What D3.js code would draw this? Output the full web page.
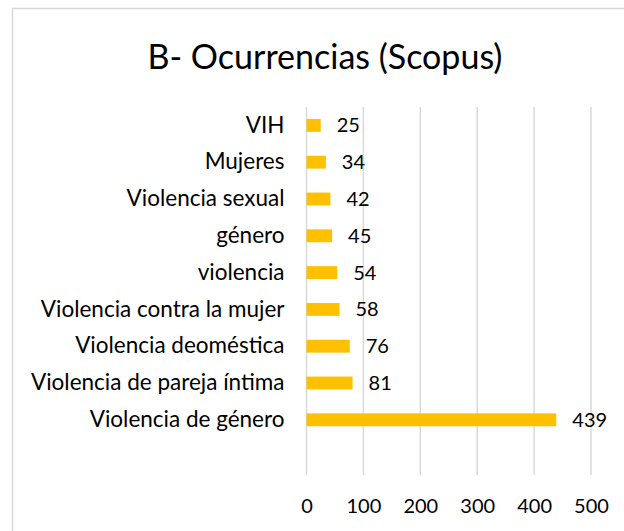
<!DOCTYPE html>
<html>
<head>
  <meta charset="utf-8">
  <title>B- Ocurrencias (Scopus)</title>
  <script src="https://d3js.org/d3.v7.min.js"></script>
  <style>
    body { margin: 0; background: #fff; }
    svg text { font-family: Lato, "Open Sans", sans-serif; fill: #000; }
  </style>
</head>
<body>
  <div id="chart"></div>
  <script>
    // data, top to bottom as in the chart
    var categories = ['VIH', 'Mujeres', 'Violencia sexual', 'género', 'violencia',
      'Violencia contra la mujer', 'Violencia deoméstica', 'Violencia de pareja íntima', 'Violencia de género'];
    var counts = [25, 34, 42, 45, 54, 58, 76, 81, 439];
    var xTicks = [0, 100, 200, 300, 400, 500];

    var width = 624, height = 531;
    var svg = d3.select('#chart').append('svg')
      .attr('width', width)
      .attr('height', height);

    // chart frame (runs off the right and bottom edges)
    svg.append('rect')
      .attr('x', 12.5).attr('y', 8.5)
      .attr('width', 640).attr('height', 560)
      .attr('fill', 'none')
      .attr('stroke', '#d9d9d9')
      .attr('stroke-width', 1.5);

    svg.append('text')
      .attr('x', 325).attr('y', 69)
      .attr('text-anchor', 'middle')
      .style('font-size', '34px')
      .text('B- Ocurrencias (Scopus)');

    var plotTop = 107, plotBottom = 475;
    var x = d3.scaleLinear().domain([0, 500]).range([306.5, 591]);
    // excel leaves one empty slot below the last bar
    var step = (plotBottom - plotTop) / (categories.length + 1);
    var y = d3.scaleBand().domain(categories)
      .range([plotTop, plotTop + step * categories.length])
      .paddingInner(0.65).paddingOuter(0.325);

    // gridlines
    svg.append('g').selectAll('line').data(xTicks).enter().append('line')
      .attr('x1', function(d) { return x(d); })
      .attr('x2', function(d) { return x(d); })
      .attr('y1', plotTop).attr('y2', plotBottom)
      .attr('stroke', '#d9d9d9')
      .attr('stroke-width', 1.5);

    // x axis labels
    var xAxis = svg.append('g')
      .attr('transform', 'translate(0,' + plotBottom + ')')
      .call(d3.axisBottom(x).tickValues(xTicks).tickSize(0).tickPadding(24));
    xAxis.select('.domain').remove();
    xAxis.selectAll('text').style('font-size', '20px').attr('fill', '#000');

    // category labels
    var yAxis = svg.append('g')
      .attr('transform', 'translate(' + x(0) + ',0)')
      .call(d3.axisLeft(y).tickSize(0).tickPadding(22));
    yAxis.select('.domain').remove();
    yAxis.selectAll('text').style('font-size', '22.5px').attr('fill', '#000');

    svg.append('g').selectAll('rect').data(counts).enter().append('rect')
      .attr('x', x(0))
      .attr('y', function(d, i) { return y(categories[i]); })
      .attr('width', function(d) { return x(d) - x(0); })
      .attr('height', y.bandwidth())
      .attr('fill', '#ffc000');

    svg.append('g').selectAll('text').data(counts).enter().append('text')
      .attr('x', function(d) { return x(d) + 16; })
      .attr('y', function(d, i) { return y(categories[i]) + y.bandwidth() / 2; })
      .attr('dy', '0.35em')
      .style('font-size', '20px')
      .text(function(d) { return d; });
  </script>
</body>
</html>
